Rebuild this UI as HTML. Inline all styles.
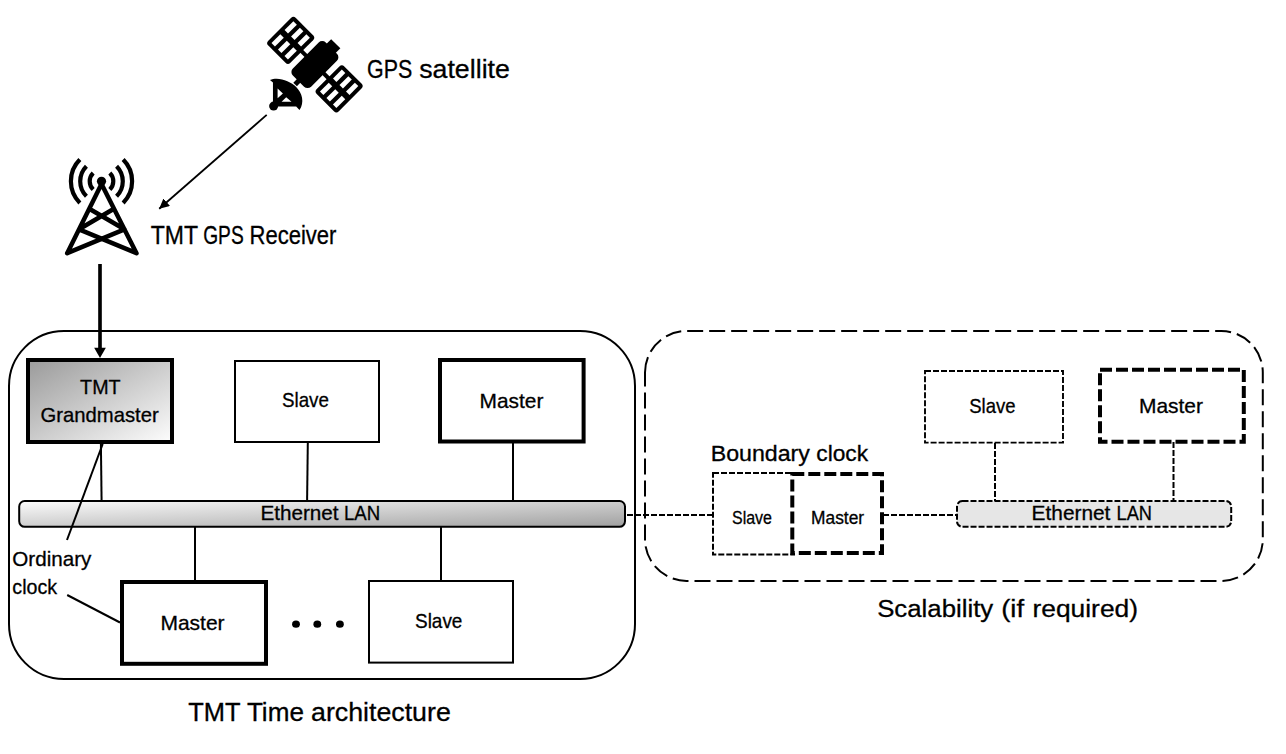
<!DOCTYPE html>
<html><head><meta charset="utf-8"><style>
html,body{margin:0;padding:0;background:#fff;width:1286px;height:754px;overflow:hidden}
svg{display:block}
.txt{font-family:"Liberation Sans",sans-serif;fill:#000;stroke:#000;stroke-width:0.3px}
</style></head><body>
<svg width="1286" height="754" viewBox="0 0 1286 754">
<rect width="1286" height="754" fill="#fff"/>

<defs>
 <linearGradient id="gm" x1="0" y1="0" x2="1" y2="1">
  <stop offset="0" stop-color="#9a9a9a"/>
  <stop offset="1" stop-color="#fdfdfd"/>
 </linearGradient>
 <linearGradient id="lan" x1="0" y1="0" x2="1" y2="1">
  <stop offset="0" stop-color="#fcfcfc"/>
  <stop offset="1" stop-color="#a0a0a0"/>
 </linearGradient>
 <marker id="ah" viewBox="0 0 10 10" refX="10" refY="5" markerWidth="10" markerHeight="10" markerUnits="userSpaceOnUse" orient="auto">
  <path d="M0,0 L10,5 L0,10 Z" fill="#000"/>
 </marker>
</defs>
<g class="shape">
<rect x="9" y="331" width="626" height="348" rx="55" fill="none" stroke="#000" stroke-width="2"/>
<path d="M645,372.5 A41.5,41.5 0 0 1 686.5,331 L1221.30,331 A41.5,41.5 0 0 1 1262.8,372.5 L1262.8,539.40 A41.5,41.5 0 0 1 1221.30,580.9 L686.5,580.9 A41.5,41.5 0 0 1 645,539.40 Z" fill="none" stroke="#000" stroke-width="2" stroke-dasharray="16 6" stroke-dashoffset="0.25"/>

<rect x="28" y="360" width="144" height="82" fill="url(#gm)" stroke="#000" stroke-width="4"/>
<rect x="235" y="361" width="144" height="81" fill="#fff" stroke="#000" stroke-width="2"/>
<rect x="440" y="360" width="143.6" height="81.5" fill="#fff" stroke="#000" stroke-width="4"/>

<line x1="100.9" y1="444" x2="101.6" y2="501" stroke="#000" stroke-width="2"/>
<line x1="307.8" y1="443" x2="307.1" y2="501" stroke="#000" stroke-width="2"/>
<line x1="513" y1="443" x2="513" y2="501" stroke="#000" stroke-width="2"/>
<line x1="195" y1="527" x2="195" y2="581" stroke="#000" stroke-width="2"/>
<line x1="441" y1="527" x2="441" y2="581" stroke="#000" stroke-width="2"/>

<rect x="19.2" y="501" width="605.8" height="25.8" rx="5.5" fill="url(#lan)" stroke="#000" stroke-width="2"/>

<rect x="122" y="582" width="144" height="81.8" fill="#fff" stroke="#000" stroke-width="4"/>
<rect x="369" y="581" width="144" height="81.6" fill="#fff" stroke="#000" stroke-width="2"/>
<ellipse cx="296" cy="624.2" rx="3.9" ry="3.6"/>
<ellipse cx="317.3" cy="624.2" rx="3.9" ry="3.6"/>
<ellipse cx="339.9" cy="624.2" rx="3.9" ry="3.6"/>

<line x1="100" y1="264" x2="100" y2="348" stroke="#000" stroke-width="3.65"/>
<path d="M94.15,347.7 L105.85,347.7 L100,358 Z" fill="#000"/>

<line x1="266.7" y1="114.9" x2="159.2" y2="208.8" stroke="#000" stroke-width="1.8" marker-end="url(#ah)"/>

<line x1="102.7" y1="444" x2="67" y2="540" stroke="#000" stroke-width="2"/>
<line x1="67.2" y1="595" x2="120" y2="622.5" stroke="#000" stroke-width="2"/>

<line x1="627" y1="515" x2="713" y2="515" stroke="#000" stroke-width="1.8" stroke-dasharray="6 2"/>
<line x1="883" y1="515" x2="957" y2="515" stroke="#000" stroke-width="1.8" stroke-dasharray="6 2"/>

<rect x="713" y="473.1" width="81" height="81.3" fill="#fff" stroke="#000" stroke-width="2" stroke-dasharray="6 2"/>
<rect x="792.3" y="474" width="89.7" height="79.1" fill="#fff" stroke="#000" stroke-width="4" stroke-dasharray="12 4"/>

<rect x="925" y="371" width="138" height="71.6" fill="#fff" stroke="#000" stroke-width="1.9" stroke-dasharray="6 2"/>
<rect x="1100" y="369.8" width="143.8" height="71.9" fill="#fff" stroke="#000" stroke-width="4" stroke-dasharray="12 4"/>
<line x1="995" y1="443" x2="995" y2="501" stroke="#000" stroke-width="2" stroke-dasharray="6 2"/>
<line x1="1173.5" y1="442" x2="1173.5" y2="501" stroke="#000" stroke-width="2" stroke-dasharray="6 2"/>
<rect x="957" y="501" width="274.2" height="25.8" rx="5.5" fill="#e6e6e6" stroke="#000" stroke-width="2" stroke-dasharray="6 2"/>

<g transform="translate(314.9,64.6) rotate(45)">
<rect x="-20" y="-2" width="40" height="4" fill="#000"/>
<rect x="-49.90" y="-19.5" width="31.3" height="39" rx="3.5" fill="#000"/>
<rect x="-45.90" y="-15.50" width="4.9" height="12.5" fill="#fff"/>
<rect x="-45.90" y="3.00" width="4.9" height="12.5" fill="#fff"/>
<rect x="-36.70" y="-15.50" width="4.9" height="12.5" fill="#fff"/>
<rect x="-36.70" y="3.00" width="4.9" height="12.5" fill="#fff"/>
<rect x="-27.50" y="-15.50" width="4.9" height="12.5" fill="#fff"/>
<rect x="-27.50" y="3.00" width="4.9" height="12.5" fill="#fff"/>
<rect x="18.60" y="-19.5" width="31.3" height="39" rx="3.5" fill="#000"/>
<rect x="22.60" y="-15.50" width="4.9" height="12.5" fill="#fff"/>
<rect x="22.60" y="3.00" width="4.9" height="12.5" fill="#fff"/>
<rect x="31.80" y="-15.50" width="4.9" height="12.5" fill="#fff"/>
<rect x="31.80" y="3.00" width="4.9" height="12.5" fill="#fff"/>
<rect x="41.00" y="-15.50" width="4.9" height="12.5" fill="#fff"/>
<rect x="41.00" y="3.00" width="4.9" height="12.5" fill="#fff"/>
<rect x="-12.9" y="-23.25" width="25.8" height="46.5" rx="5" fill="#000"/>
<path d="M-6.5,-20 L-6.5,-29.5 L6.5,-29.5 L6.5,-20 Z" fill="#000"/>
<rect x="-2.5" y="18" width="5" height="10" fill="#000"/>
</g>
<path d="M269.97,79.92 C278.26,76.27 290.20,80.92 296.17,86.88 C302.14,92.85 304.79,102.14 299.48,110.09 L296.17,106.45 L277.6,106.45 L272.96,102.14 L272.96,82.57 Z" fill="#000"/>
<path d="M277.6,88.5 L282.9,93.5 L277.6,98.2 Z M281.6,101.8 L286.2,97.2 L291.5,101.8 Z" fill="#fff"/>
<circle cx="273.62" cy="106.11" r="4.5" fill="#000"/>
<path d="M93.16,189.59 A11.8,11.8 0 0 1 93.16,172.91" fill="none" stroke="#000" stroke-width="4.2"/>
<path d="M109.84,172.91 A11.8,11.8 0 0 1 109.84,189.59" fill="none" stroke="#000" stroke-width="4.2"/>
<path d="M86.44,196.31 A21.3,21.3 0 0 1 86.44,166.19" fill="none" stroke="#000" stroke-width="4.2"/>
<path d="M116.56,166.19 A21.3,21.3 0 0 1 116.56,196.31" fill="none" stroke="#000" stroke-width="4.2"/>
<path d="M79.86,202.89 A30.6,30.6 0 0 1 79.86,159.61" fill="none" stroke="#000" stroke-width="4.2"/>
<path d="M123.14,159.61 A30.6,30.6 0 0 1 123.14,202.89" fill="none" stroke="#000" stroke-width="4.2"/>
<circle cx="101.5" cy="181.25" r="4.6" fill="#000"/>
<path d="M67.2,253.2 L101.5,184 L136.5,253.2 L79.05,229.30 L113.99,208.70 M89.26,208.70 L124.41,229.30 L67.2,253.2" fill="none" stroke="#000" stroke-width="4.5" stroke-linejoin="round" stroke-linecap="round"/>
</g>

<g class="texts">
<text id="t_gps_1" class="txt" x="367.10" y="77.60" font-size="26.16" textLength="45.20" lengthAdjust="spacingAndGlyphs">GPS</text>
<text id="t_gps_2" class="txt" x="419.20" y="77.60" font-size="26.16" textLength="90.70" lengthAdjust="spacingAndGlyphs">satellite</text>
<text id="t_rcv_1" class="txt" x="150.80" y="243.80" font-size="24.85" textLength="47.30" lengthAdjust="spacingAndGlyphs">TMT</text>
<text id="t_rcv_2" class="txt" x="203.20" y="243.80" font-size="24.85" textLength="40.50" lengthAdjust="spacingAndGlyphs">GPS</text>
<text id="t_rcv_3" class="txt" x="249.50" y="243.80" font-size="24.85" textLength="86.90" lengthAdjust="spacingAndGlyphs">Receiver</text>
<text id="t_tmt" class="txt" x="80.10" y="393.80" font-size="20.93" textLength="40.50" lengthAdjust="spacingAndGlyphs">TMT</text>
<text id="t_gm" class="txt" x="40.60" y="421.60" font-size="20.93" textLength="118.10" lengthAdjust="spacingAndGlyphs">Grandmaster</text>
<text id="t_sl1" class="txt" x="282.00" y="406.90" font-size="20.93" textLength="46.90" lengthAdjust="spacingAndGlyphs">Slave</text>
<text id="t_ma1" class="txt" x="479.60" y="408.00" font-size="20.93" textLength="63.80" lengthAdjust="spacingAndGlyphs">Master</text>
<text id="t_lan1_1" class="txt" x="260.40" y="520.00" font-size="20.93" textLength="78.20" lengthAdjust="spacingAndGlyphs">Ethernet</text>
<text id="t_lan1_2" class="txt" x="344.00" y="520.00" font-size="20.93" textLength="36.20" lengthAdjust="spacingAndGlyphs">LAN</text>
<text id="t_ord" class="txt" x="12.30" y="565.90" font-size="20.93" textLength="79.10" lengthAdjust="spacingAndGlyphs">Ordinary</text>
<text id="t_clk" class="txt" x="12.30" y="593.70" font-size="20.93" textLength="44.80" lengthAdjust="spacingAndGlyphs">clock</text>
<text id="t_ma2" class="txt" x="160.40" y="630.20" font-size="20.93" textLength="64.20" lengthAdjust="spacingAndGlyphs">Master</text>
<text id="t_sl2" class="txt" x="415.00" y="628.00" font-size="20.93" textLength="47.40" lengthAdjust="spacingAndGlyphs">Slave</text>
<text id="t_arch_1" class="txt" x="188.20" y="720.60" font-size="25.29" textLength="52.30" lengthAdjust="spacingAndGlyphs">TMT</text>
<text id="t_arch_2" class="txt" x="246.90" y="720.60" font-size="25.29" textLength="57.00" lengthAdjust="spacingAndGlyphs">Time</text>
<text id="t_arch_3" class="txt" x="311.00" y="720.60" font-size="25.29" textLength="139.80" lengthAdjust="spacingAndGlyphs">architecture</text>
<text id="t_bc_1" class="txt" x="710.70" y="460.60" font-size="21.51" textLength="99.20" lengthAdjust="spacingAndGlyphs">Boundary</text>
<text id="t_bc_2" class="txt" x="816.30" y="460.60" font-size="21.51" textLength="51.80" lengthAdjust="spacingAndGlyphs">clock</text>
<text id="t_sl3" class="txt" x="732.00" y="523.80" font-size="17.44" textLength="40.00" lengthAdjust="spacingAndGlyphs">Slave</text>
<text id="t_ma3" class="txt" x="811.00" y="523.80" font-size="17.44" textLength="53.10" lengthAdjust="spacingAndGlyphs">Master</text>
<text id="t_sl4" class="txt" x="969.20" y="412.90" font-size="20.93" textLength="46.30" lengthAdjust="spacingAndGlyphs">Slave</text>
<text id="t_ma4" class="txt" x="1139.00" y="412.70" font-size="20.93" textLength="64.00" lengthAdjust="spacingAndGlyphs">Master</text>
<text id="t_lan2_1" class="txt" x="1031.60" y="519.80" font-size="20.93" textLength="78.80" lengthAdjust="spacingAndGlyphs">Ethernet</text>
<text id="t_lan2_2" class="txt" x="1116.60" y="519.80" font-size="20.93" textLength="35.40" lengthAdjust="spacingAndGlyphs">LAN</text>
<text id="t_scal_1" class="txt" x="877.20" y="616.60" font-size="24.56" textLength="116.00" lengthAdjust="spacingAndGlyphs">Scalability</text>
<text id="t_scal_2" class="txt" x="1001.20" y="616.60" font-size="24.56" textLength="22.90" lengthAdjust="spacingAndGlyphs">(if</text>
<text id="t_scal_3" class="txt" x="1032.50" y="616.60" font-size="24.56" textLength="105.50" lengthAdjust="spacingAndGlyphs">required)</text>
</g>
</svg>
</body></html>
